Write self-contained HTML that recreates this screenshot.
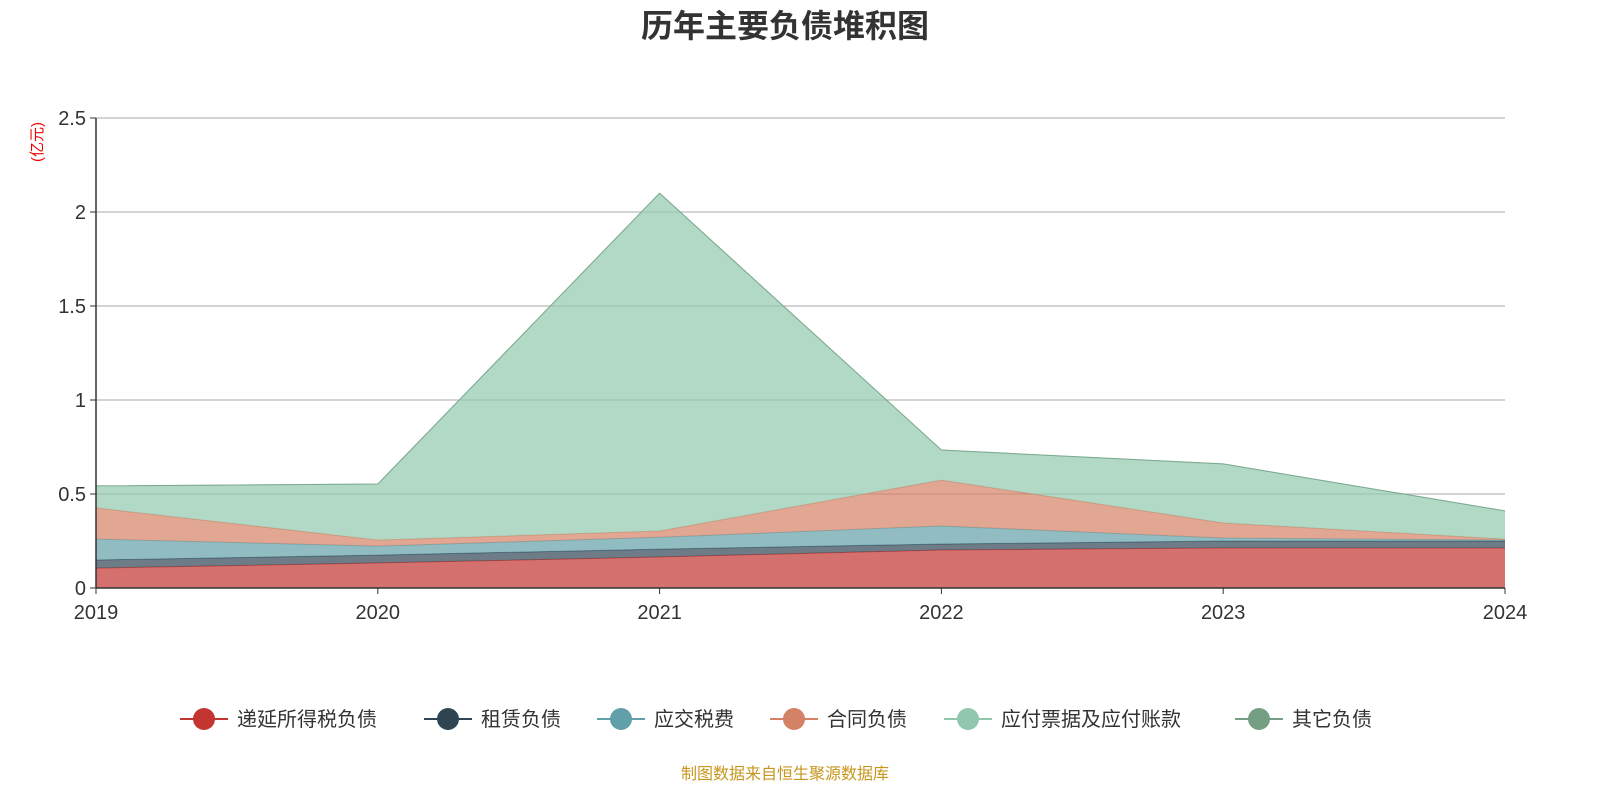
<!DOCTYPE html>
<html><head><meta charset="utf-8"><style>
body{margin:0;background:#fff;font-family:"Liberation Sans","Noto Sans CJK SC",sans-serif;}
</style></head><body>
<svg id="c" width="1600" height="800" xmlns="http://www.w3.org/2000/svg">
<text x="785" y="37" text-anchor="middle" font-size="32" font-weight="bold" fill="#333" font-family="Liberation Sans, Noto Sans CJK SC, sans-serif">历年主要负债堆积图</text>
<text transform="translate(42,142) rotate(-90)" text-anchor="middle" font-size="15" fill="#e00" font-family="Liberation Sans, Noto Sans CJK SC, sans-serif">(亿元)</text>
<g id="grid"></g><g id="areas"></g><g id="axes"></g><g id="legend"></g>
<text x="785" y="779" text-anchor="middle" font-size="16" fill="#c8961e" font-family="Liberation Sans, Noto Sans CJK SC, sans-serif">制图数据来自恒生聚源数据库</text>
</svg>
<script>
const categories=["2019","2020","2021","2022","2023","2024"];
const seriesNames=["递延所得税负债","租赁负债","应交税费","合同负债","应付票据及应付账款","其它负债"];
const deferredTax=[0.106,0.133,0.165,0.202,0.213,0.213];
const lease=[0.043,0.042,0.042,0.032,0.037,0.037];
const taxPayable=[0.111,0.048,0.063,0.096,0.016,0.005];
const contract=[0.166,0.032,0.033,0.244,0.080,0.005];
const payables=[0.117,0.298,1.797,0.160,0.314,0.150];
const other=[0,0,0,0,0,0];
const yTicks=[0,0.5,1,1.5,2,2.5];
const yTickLabels=["0","0.5","1","1.5","2","2.5"];
const colors=["#c23531","#2f4554","#61a0a8","#d48265","#91c7ae","#749f83"];
const ns="http://www.w3.org/2000/svg";
const X0=96,X1=1505,Y0=588,Y1=118,YMAX=2.5;
const xs=i=>X0+(X1-X0)*i/(categories.length-1);
const ys=v=>Y0-(Y0-Y1)*v/YMAX;
function mk(t,a,p){const e=document.createElementNS(ns,t);for(const k in a)e.setAttribute(k,a[k]);p.appendChild(e);return e;}
const grid=document.getElementById('grid'),axes=document.getElementById('axes'),areas=document.getElementById('areas'),legend=document.getElementById('legend');
yTicks.forEach((v,i)=>{
 if(v>0){const l=mk('line',{x1:X0,x2:X1,y1:ys(v),y2:ys(v),stroke:'#bbb','stroke-width':1.3},grid);
 
 }
 const tk=mk('line',{x1:X0-6,x2:X0,y1:ys(v),y2:ys(v),stroke:'#333'},axes);
 
 
 const t=mk('text',{x:X0-10,y:ys(v)+7,'text-anchor':'end','font-size':20,fill:'#333'},axes);
 t.textContent=yTickLabels[i];
 
 
});
const data=[deferredTax,lease,taxPayable,contract,payables,other];
let base=categories.map(()=>0);
data.forEach((s,k)=>{
 const top=base.map((b,i)=>b+s[i]);
 let d='M'+categories.map((c,i)=>xs(i)+','+ys(top[i])).join('L');
 for(let i=categories.length-1;i>=0;i--)d+='L'+xs(i)+','+ys(base[i]);
 d+='Z';
 const p=mk('path',{d:d,fill:colors[k],'fill-opacity':0.7,stroke:'none'},areas);
 
 
 const ln=mk('polyline',{points:categories.map((c,i)=>xs(i)+','+ys(top[i])).join(' '),fill:'none',stroke:colors[k],'stroke-width':1,'stroke-opacity':0.8},areas);
 
 
 base=top;
});
const ya=mk('line',{x1:X0,x2:X0,y1:Y1,y2:Y0,stroke:'#333','stroke-width':1.5},axes);


const xa=mk('line',{x1:X0,x2:X1,y1:Y0,y2:Y0,stroke:'#333','stroke-width':1.5},axes);


categories.forEach((c,i)=>{
 const tk=mk('line',{x1:xs(i),x2:xs(i),y1:Y0,y2:Y0+6,stroke:'#333'},axes);
 
 
 const t=mk('text',{x:xs(i),y:Y0+31,'text-anchor':'middle','font-size':20,fill:'#333'},axes);
 t.textContent=c;
 
 
});
const lx=[180,424,597,770,944,1235],lw=[];
seriesNames.forEach((n,k)=>{
 const g=mk('g',{},legend);
 
 
 mk('line',{x1:lx[k],x2:lx[k]+48,y1:719,y2:719,stroke:colors[k],'stroke-width':2},g);
 mk('circle',{cx:lx[k]+24,cy:719,r:11,fill:colors[k]},g);
 const t=mk('text',{x:lx[k]+57,y:726,'font-size':20,fill:'#333'},g);
 t.textContent=n;
});
</script>
</body></html>
